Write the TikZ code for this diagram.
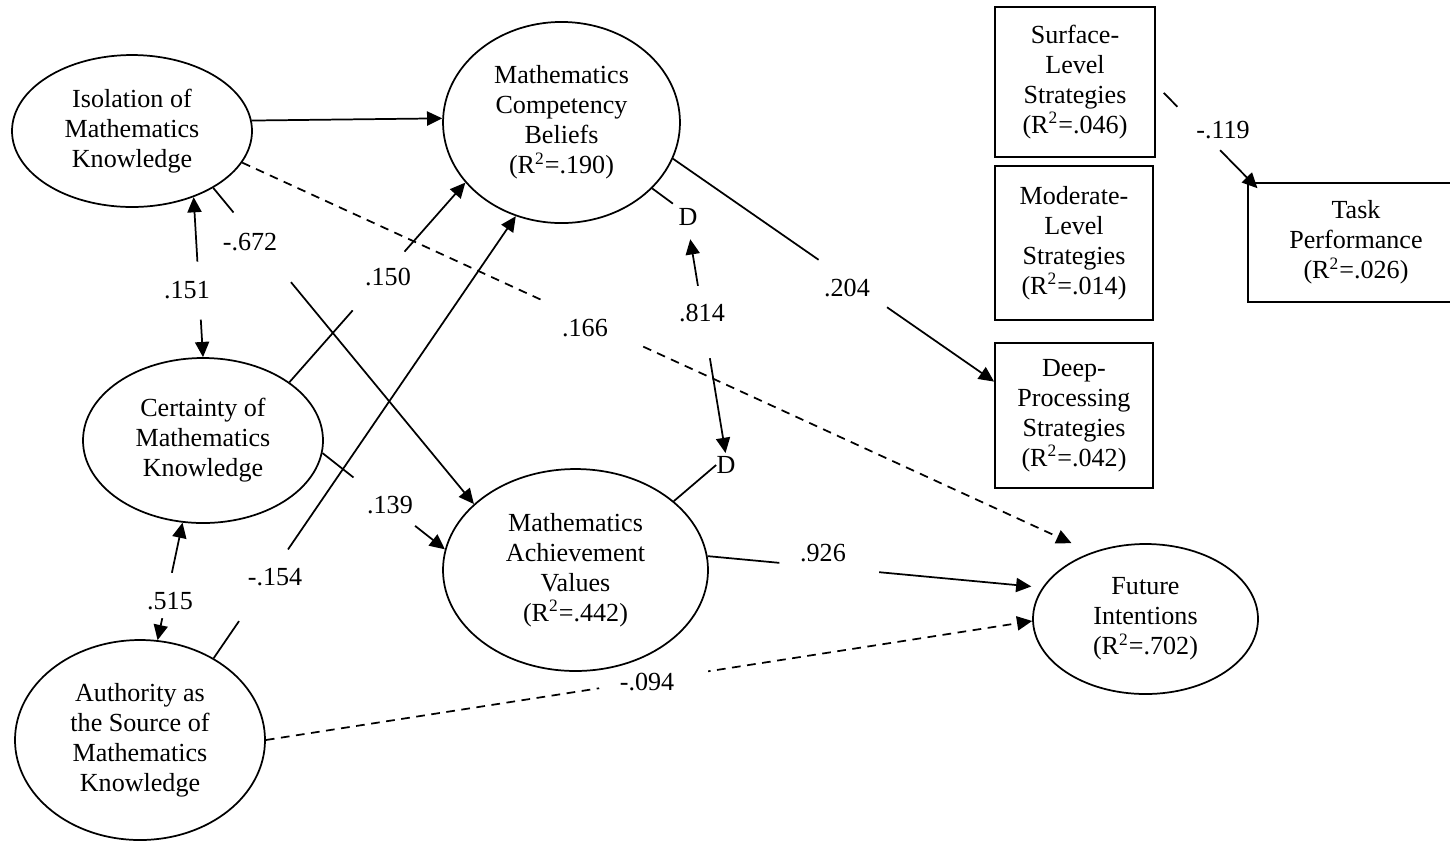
\documentclass[tikz,border=0pt]{standalone}
\usepackage{fontspec}
\setmainfont{Liberation Serif}
\usetikzlibrary{arrows.meta,shapes.geometric}
\begin{document}
\begin{tikzpicture}[x=0.46pt,y=-0.46pt,
  every node/.style={font=\fontsize{12pt}{13.8pt}\selectfont, align=center, inner sep=0pt},
  lv/.style={ellipse, draw, line width=0.8pt},
  bx/.style={rectangle, draw, line width=0.8pt},
  ln/.style={line width=0.8pt},
  tip/.tip={Triangle[length=7pt,width=6.5pt]},
  arr/.style={ln, -tip},
  dbl/.style={ln, tip-tip},
  dsh/.style={dash pattern=on 4pt off 3pt},
  gapn/.style={fill=white, sloped, minimum height=3pt, inner sep=0pt, pos=#1}]
\useasboundingbox (0,0) rectangle (1450,844);

% latent variables
\node[lv, minimum width=110.4pt, minimum height=69.9pt] (iso) at (132,131) {Isolation of\\Mathematics\\Knowledge};
\node[lv, minimum width=109pt, minimum height=92.5pt] (comp) at (561.5,122.5) {Mathematics\\Competency\\Beliefs\\(R\textsuperscript{2}=.190)};
\node[lv, minimum width=110.4pt, minimum height=75.9pt] (cert) at (203,440.5) {Certainty of\\Mathematics\\Knowledge};
\node[lv, minimum width=115pt, minimum height=92pt] (auth) at (140,740) {Authority as\\the Source of\\Mathematics\\Knowledge};
\node[lv, minimum width=121.9pt, minimum height=92.9pt] (ach) at (575.5,570) {Mathematics\\Achievement\\Values\\(R\textsuperscript{2}=.442)};
\node[lv, minimum width=103.5pt, minimum height=69pt] (fut) at (1145.5,619) {Future\\Intentions\\(R\textsuperscript{2}=.702)};

% observed variables
\node[bx, minimum width=73.6pt, minimum height=69pt] (surf) at (1075,82) {Surface-\\Level\\Strategies\\(R\textsuperscript{2}=.046)};
\node[bx, minimum width=72.7pt, minimum height=70.8pt] (mod) at (1074,243) {Moderate-\\Level\\Strategies\\(R\textsuperscript{2}=.014)};
\node[bx, minimum width=72.7pt, minimum height=66.7pt] (deep) at (1074,415.5) {Deep-\\Processing\\Strategies\\(R\textsuperscript{2}=.042)};
\node[bx, minimum width=99.4pt, minimum height=54.7pt] (task) at (1356,242.5) {Task\\Performance\\(R\textsuperscript{2}=.026)};

% disturbances
\node (D1) at (688,216.5) {D};
\node (D2) at (726,465) {D};

% paths
\draw[arr] (iso.5.7) -- (comp.178.5);
\draw[dbl] (iso.-47.7) -- node[gapn=.584, minimum width=26.7pt]{} (cert.90);
\draw[arr] (iso.-35) -- node[gapn=.188, minimum width=41.4pt]{} (ach.147.8);
\draw[arr] (cert.34.1) -- node[gapn=.507, minimum width=35.9pt]{} (comp.212.7);
\draw[arr] (auth.48.4) -- node[gapn=.165, minimum width=39.8pt]{} (comp.244.2);
\draw[arr] (cert.-6.7) -- node[gapn=.505, minimum width=35.9pt]{} (ach.171.4);
\draw[dbl] (cert.-104.6) -- node[gapn=.62, minimum width=21.2pt]{} (auth.80);
\draw[arr, dsh, shorten >=10.1pt] (iso.-16.2) -- node[gapn=.411, minimum width=51pt]{} (fut.129.6);
\draw[arr] (comp.-18.1) -- node[gapn=.56, minimum width=38.2pt]{} (deep.157.6);
\draw[arr, shorten >=5.1pt] (ach.6) -- node[gapn=.363, minimum width=46pt]{} (fut.163.2);
\draw[arr, dsh] (auth.0) -- node[gapn=.506, minimum width=50.6pt]{} (fut.181.5);
\draw[arr, shorten <=5.2pt, shorten >=-3.9pt] (surf.-2.9) -- node[gapn=.448, minimum width=27.9pt]{} (task.150.2);
\draw[ln, shorten >=3pt] (comp.-36.4) -- (D1.north west);
\draw[ln] (ach.35) -- (D2.west);
\draw[dbl, shorten <=6.4pt, shorten >=1.4pt] (D1.south) -- node[gapn=.419, minimum width=33.6pt]{} (D2.north);

% coefficients
\node (c151) at (187,290) {.151};
\node (c672) at (250,242) {-.672};
\node (c150) at (388,277) {.150};
\node (c154) at (275,577) {-.154};
\node (c139) at (390,505) {.139};
\node (c515) at (170,601) {.515};
\node (c166) at (585,328) {.166};
\node (c814) at (702,313) {.814};
\node (c204) at (847,288) {.204};
\node (c926) at (823,553) {.926};
\node (c094) at (647,682) {-.094};
\node (c119) at (1223,130) {-.119};
\end{tikzpicture}
\end{document}
